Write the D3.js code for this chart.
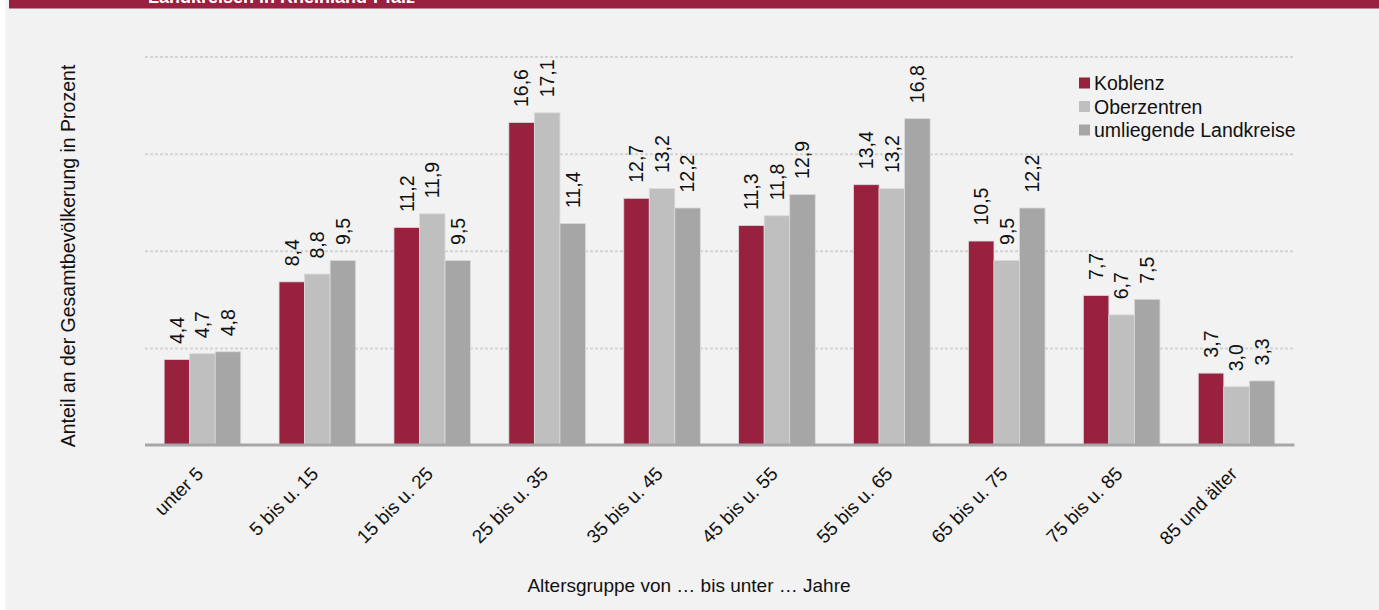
<!DOCTYPE html>
<html>
<head>
<meta charset="utf-8">
<script src="https://cdnjs.cloudflare.com/ajax/libs/d3/7.8.5/d3.min.js"></script>
<style>
    html, body { margin: 0; padding: 0; background: #fff; }
    svg { display: block; font-family: "Liberation Sans", Arial, sans-serif; }
</style>
</head>
<body>
<div id="chart"></div>
<script>
// data
const categories = ['unter 5', '5 bis u. 15', '15 bis u. 25', '25 bis u. 35', '35 bis u. 45',
    '45 bis u. 55', '55 bis u. 65', '65 bis u. 75', '75 bis u. 85', '85 und älter'];
const seriesNames = ['Koblenz', 'Oberzentren', 'umliegende Landkreise'];
const koblenz = [4.4, 8.4, 11.2, 16.6, 12.7, 11.3, 13.4, 10.5, 7.7, 3.7];
const oberzentren = [4.7, 8.8, 11.9, 17.1, 13.2, 11.8, 13.2, 9.5, 6.7, 3.0];
const landkreise = [4.8, 9.5, 9.5, 11.4, 12.2, 12.9, 16.8, 12.2, 7.5, 3.3];
const gridTicks = [5, 10, 15, 20];

const colors = ['#97213f', '#bfbfbf', '#a6a6a6'];

class GroupedBarChart {
    outerWidth = 1379;
    outerHeight = 610;
    plot = { left: 145, right: 1294, top: 56.5, bottom: 445 };

    constructor(node) {
        this.container = d3.select(node);
        this.container.selectAll('*').remove();
        this.svg = this.container.append('svg')
            .attr('width', this.outerWidth)
            .attr('height', this.outerHeight);
    }

    drawFrame = () => {
        // grey panel and the cut-off title banner
        this.svg.append('rect')
            .attr('x', 5.5).attr('y', 0)
            .attr('width', this.outerWidth).attr('height', this.outerHeight)
            .attr('fill', '#f2f2f2');
        this.svg.append('rect')
            .attr('x', 9).attr('y', 0)
            .attr('width', this.outerWidth).attr('height', 8.5)
            .attr('fill', '#97213f');
        this.svg.append('text')
            .attr('x', 148).attr('y', 3)
            .attr('fill', '#fff')
            .attr('font-size', 18)
            .attr('font-weight', 'bold')
            .text('Landkreisen in Rheinland-Pfalz');
    };

    setScales = () => {
        const { left, right, top, bottom } = this.plot;
        this.x = d3.scaleBand()
            .domain(categories)
            .range([left, right])
            .paddingInner(1 / 3)
            .paddingOuter(1 / 6);
        this.xSub = d3.scaleBand()
            .domain(seriesNames)
            .range([0, this.x.bandwidth()]);
        this.y = d3.scaleLinear()
            .domain([0, 20])
            .range([bottom, top]);
    };

    drawGrid = () => {
        const { left, right } = this.plot;
        const grid = d3.axisLeft(this.y)
            .tickValues(gridTicks)
            .tickSize(-(right - left))
            .tickFormat('');
        this.svg.append('g')
            .attr('transform', `translate(${left},0)`)
            .call(grid)
            .call((g) => g.select('.domain').remove())
            .call((g) => g.selectAll('line')
                .attr('stroke', '#d3d3d3')
                .attr('stroke-width', 2)
                .attr('stroke-dasharray', '3,2'));
    };

    drawBars = () => {
        const rows = categories.map((c, i) => ({
            key: c,
            values: [koblenz[i], oberzentren[i], landkreise[i]],
        }));
        const fmt = (v) => d3.format('.1f')(v).replace('.', ',');

        const groups = this.svg.append('g')
            .selectAll('g')
            .data(rows)
            .join('g')
            .attr('transform', (d) => `translate(${this.x(d.key)},0)`);

        const cells = groups.selectAll('g')
            .data((d) => d.values.map((v, j) => ({ name: seriesNames[j], value: v, j })))
            .join('g');

        cells.append('rect')
            .attr('x', (d) => this.xSub(d.name))
            .attr('y', (d) => this.y(d.value))
            .attr('width', this.xSub.bandwidth())
            .attr('height', (d) => this.y(0) - this.y(d.value))
            .attr('fill', (d) => colors[d.j])
            .attr('stroke', '#dadada')
            .attr('stroke-width', 0.8);

        cells.append('text')
            .attr('transform', (d) => {
                const cx = this.xSub(d.name) + this.xSub.bandwidth() / 2;
                return `translate(${cx},${this.y(d.value) - 15.5}) rotate(-90)`;
            })
            .attr('dy', '0.35em')
            .attr('font-size', 19.5)
            .attr('fill', '#111')
            .text((d) => fmt(d.value));
    };

    drawAxes = () => {
        const { left, right, bottom } = this.plot;
        this.svg.append('line')
            .attr('x1', left).attr('x2', right + 0.5)
            .attr('y1', bottom).attr('y2', bottom)
            .attr('stroke', '#a6a6a6')
            .attr('stroke-width', 3);

        const xAxis = d3.axisBottom(this.x).tickSize(0).tickPadding(0);
        this.svg.append('g')
            .attr('transform', `translate(0,${bottom})`)
            .call(xAxis)
            .call((g) => g.select('.domain').remove())
            .call((g) => g.selectAll('text')
                .attr('font-size', 19)
                .attr('font-family', null)
                .attr('fill', '#111')
                .attr('y', 0)
                .attr('dy', 0)
                .attr('text-anchor', 'end')
                .attr('transform', 'translate(2,30) rotate(-45)'));

        this.svg.append('text')
            .attr('x', 689).attr('y', 592)
            .attr('text-anchor', 'middle')
            .attr('font-size', 19)
            .attr('fill', '#111')
            .text('Altersgruppe von … bis unter … Jahre');

        this.svg.append('text')
            .attr('transform', 'translate(75,256) rotate(-90)')
            .attr('text-anchor', 'middle')
            .attr('font-size', 19.5)
            .attr('fill', '#111')
            .text('Anteil an der Gesamtbevölkerung in Prozent');
    };

    drawLegend = () => {
        const legend = this.svg.append('g')
            .attr('transform', 'translate(1079,83)')
            .selectAll('g')
            .data(seriesNames)
            .join('g')
            .attr('transform', (d, i) => `translate(0,${i * 23.5})`);
        legend.append('rect')
            .attr('x', 0).attr('y', -5.5)
            .attr('width', 11).attr('height', 11)
            .attr('fill', (d, i) => colors[i]);
        legend.append('text')
            .attr('x', 15)
            .attr('dy', '0.36em')
            .attr('font-size', 19.5)
            .attr('fill', '#111')
            .text((d) => d);
    };

    render = () => {
        this.drawFrame();
        this.setScales();
        this.drawGrid();
        this.drawBars();
        this.drawAxes();
        this.drawLegend();
        return this;
    };
}

new GroupedBarChart('#chart').render();
</script>
</body>
</html>
